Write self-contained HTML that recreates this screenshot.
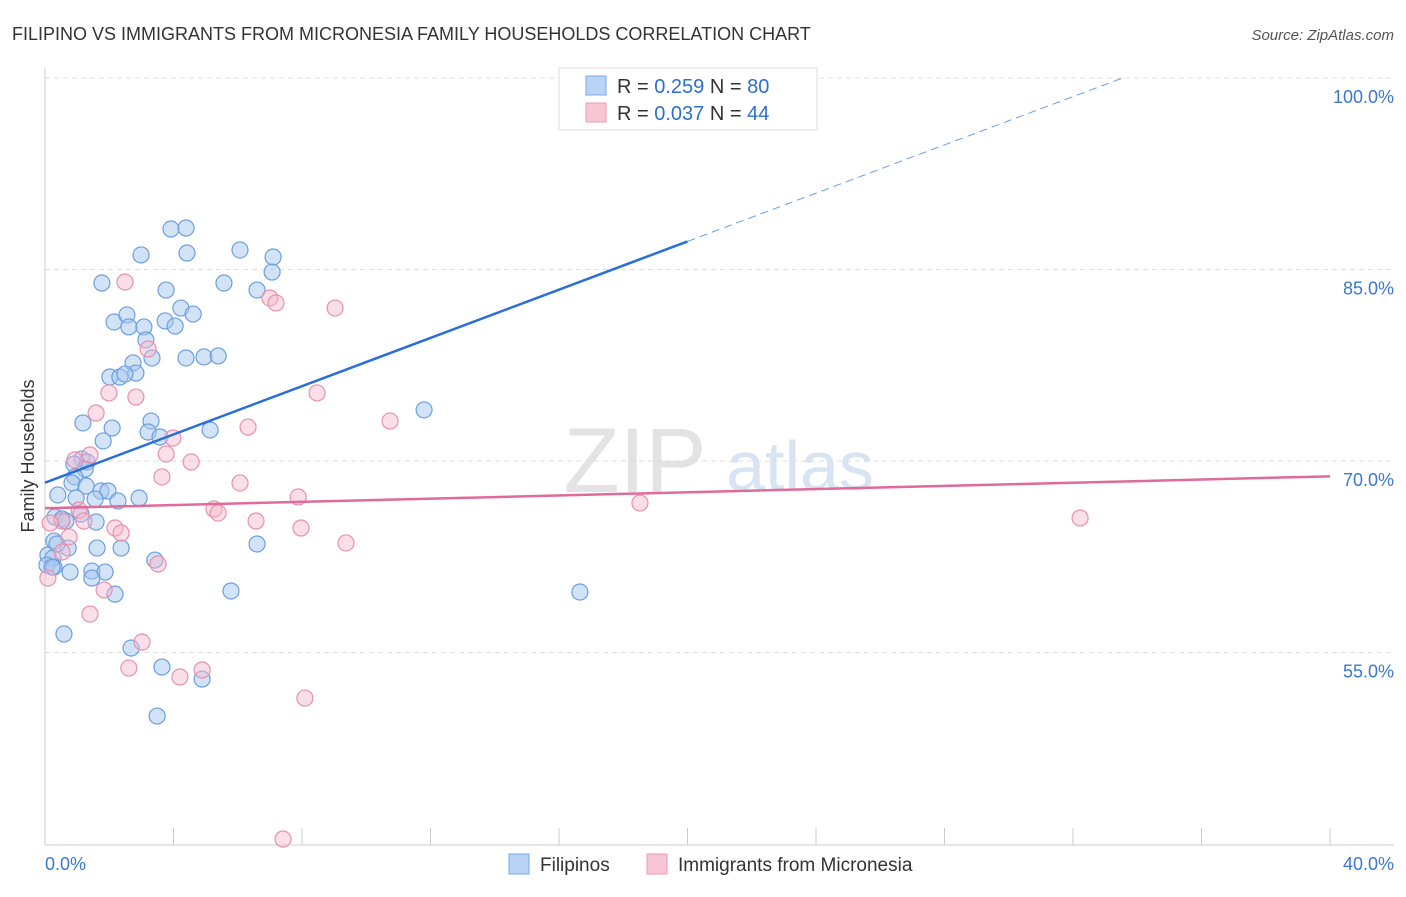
<!DOCTYPE html>
<html><head><meta charset="utf-8"><style>
body{margin:0;background:#fff;font-family:"Liberation Sans",sans-serif;}
svg text{font-family:"Liberation Sans",sans-serif;}
</style></head><body>
<svg id="chart" width="1406" height="892">
<text x="12" y="40" font-size="18" fill="#333">FILIPINO VS IMMIGRANTS FROM MICRONESIA FAMILY HOUSEHOLDS CORRELATION CHART</text>
<text x="1394" y="40" font-size="15" fill="#555" font-style="italic" text-anchor="end">Source: ZipAtlas.com</text>
<text x="34" y="456" font-size="18" fill="#333" text-anchor="middle" transform="rotate(-90 34 456)">Family Households</text>
<g><text x="635" y="492" font-size="92" fill="#e3e3e3" font-family="Liberation Serif" text-anchor="middle">ZIP</text><text x="800" y="490" font-size="70" fill="#d6e4f4" text-anchor="middle">atlas</text></g>
<g id="grid"></g><g id="axes"></g><g id="pts"></g><g id="lines"></g>
<g>
<rect x="559" y="68" width="258" height="62" fill="#fff" stroke="#ddd"/>
<rect x="586" y="76" width="20" height="19" fill="#b8d3f4" stroke="#7aa8e6"/>
<rect x="586" y="103" width="20" height="19" fill="#f9c6d5" stroke="#eb9ab4"/>
<text x="617" y="93" font-size="20" fill="#333">R = <tspan fill="#2e6fd0">0.259</tspan>   N = <tspan fill="#2e6fd0">80</tspan></text>
<text x="617" y="120" font-size="20" fill="#333">R = <tspan fill="#2e6fd0">0.037</tspan>   N = <tspan fill="#2e6fd0">44</tspan></text>
</g>
<g>
<rect x="509" y="854" width="20" height="20" fill="#b8d3f4" stroke="#7aa8e6"/><text x="540" y="871" font-size="19" fill="#333">Filipinos</text>
<rect x="647" y="854" width="20" height="20" fill="#f9c6d5" stroke="#eb9ab4"/><text x="678" y="871" font-size="19" fill="#333">Immigrants from Micronesia</text>
</g>
</svg>
<script>
const yTicks=[100,85,70,55];
const xTickCount=11;
const blueX=[1.77,2.99,3.92,4.39,4.42,6.07,7.10,7.07,5.57,6.60,3.77,4.23,4.61,3.74,4.05,2.15,2.55,2.61,3.08,3.14,3.33,4.39,4.95,5.39,2.74,2.83,2.02,2.33,2.49,11.80,3.30,1.18,2.09,3.21,3.58,5.14,1.81,1.15,1.31,0.90,1.25,0.93,0.84,1.28,1.74,1.96,0.40,0.97,1.56,2.27,2.93,1.12,0.31,0.53,1.59,0.65,0.28,0.72,1.62,2.37,6.60,0.09,0.25,3.42,0.06,0.28,0.78,1.46,1.87,1.46,2.18,5.79,16.65,0.59,2.68,3.64,4.89,3.49,0.37,0.22];
const blueY=[83.94,86.14,88.17,88.25,86.29,86.53,85.98,84.80,83.94,83.39,83.39,81.98,81.51,80.97,80.57,80.89,81.44,80.50,80.50,79.48,78.07,78.07,78.15,78.23,77.68,76.89,76.58,76.58,76.81,74.0,73.13,72.98,72.58,72.27,71.88,72.43,71.57,70.16,69.92,69.76,69.37,68.75,68.28,68.04,67.65,67.65,67.34,67.10,67.02,66.87,67.10,65.85,65.61,65.46,65.22,65.30,63.73,63.18,63.18,63.18,63.50,62.64,62.40,62.24,61.85,61.69,61.30,61.38,61.30,60.83,59.57,59.82,59.74,56.45,55.35,53.86,52.92,50.02,63.50,61.69];
const pinkX=[2.49,7.00,7.19,9.03,3.21,8.47,1.99,2.83,1.59,10.74,6.32,3.98,3.77,1.40,0.93,4.55,3.64,6.07,7.88,18.52,5.26,5.39,1.06,1.21,0.53,32.22,6.57,7.97,2.18,2.37,0.75,9.37,0.53,3.52,1.84,1.40,3.02,2.61,4.89,4.20,8.09,7.41,0.09,0.16];
const pinkY=[84.02,82.77,82.38,81.98,78.77,75.33,75.33,75.01,73.76,73.13,72.66,71.80,70.55,70.47,70.08,69.92,68.75,68.28,67.18,66.71,66.24,65.93,66.16,65.30,65.30,65.54,65.30,64.75,64.75,64.36,64.05,63.58,62.87,61.93,59.90,58.01,55.82,53.78,53.63,53.08,51.43,40.39,60.83,65.14];
const blueTrend=[68.3,87.2];
const pinkTrend=[66.3,68.8];
const NS='http://www.w3.org/2000/svg';
const X=v=>45+v/40*1285, Y=v=>78+(100-v)/15*191.5;
function mk(t,a,p){const e=document.createElementNS(NS,t);for(const k in a)e.setAttribute(k,a[k]);document.getElementById(p).appendChild(e);return e;}
yTicks.forEach(t=>{
 const g=mk('line',{x1:45,x2:1394,y1:Y(t),y2:Y(t),stroke:'#ddd','stroke-dasharray':'5,4'},'grid');
 
 
 const tx=mk('text',{x:1394,y:Y(t)+25,'font-size':18,fill:'#3a78d4','text-anchor':'end'},'grid');
 tx.textContent=t.toFixed(1)+'%';
 
 
});
mk('line',{x1:45,x2:45,y1:68,y2:845,stroke:'#ccc'},'axes');
mk('line',{x1:45,x2:1394,y1:845,y2:845,stroke:'#ccc'},'axes');
for(let i=0;i<xTickCount;i++){const l=mk('line',{x1:X(i*4),x2:X(i*4),y1:828,y2:845,stroke:'#ccc'},'axes');
 
 }
let t0=mk('text',{x:45,y:870,'font-size':18,fill:'#3a78d4'},'axes');t0.textContent='0.0%';


let t1=mk('text',{x:1394,y:870,'font-size':18,fill:'#3a78d4','text-anchor':'end'},'axes');t1.textContent='40.0%';


blueX.forEach((x,i)=>{const c=mk('circle',{cx:X(x),cy:Y(blueY[i]),r:8,fill:'rgba(168,200,240,0.5)',stroke:'#6a9fe0','stroke-width':1.2},'pts');
 
 });
pinkX.forEach((x,i)=>{const c=mk('circle',{cx:X(x),cy:Y(pinkY[i]),r:8,fill:'rgba(246,184,203,0.45)',stroke:'#e890ad','stroke-width':1.2},'pts');
 
 });
const slope=(blueTrend[1]-blueTrend[0])/20;
let bl=mk('line',{x1:X(0),y1:Y(blueTrend[0]),x2:X(20),y2:Y(blueTrend[1]),stroke:'#2a6fd6','stroke-width':2.5},'lines');


const xe=20+(100-blueTrend[1])/slope;
let bd=mk('line',{x1:X(20),y1:Y(blueTrend[1]),x2:X(xe),y2:Y(100),stroke:'#6a9fe0','stroke-width':1,'stroke-dasharray':'8,5'},'lines');


let pl=mk('line',{x1:X(0),y1:Y(pinkTrend[0]),x2:X(40),y2:Y(pinkTrend[1]),stroke:'#e06b98','stroke-width':2.5},'lines');


</script>
</body></html>
